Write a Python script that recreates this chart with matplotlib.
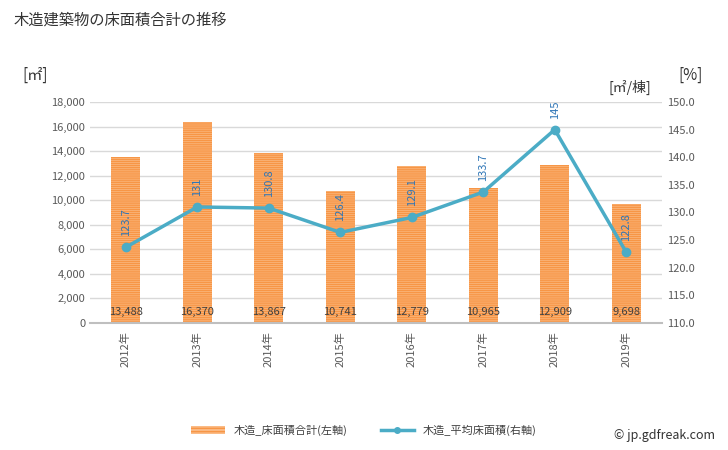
import matplotlib
matplotlib.use("Agg")
import matplotlib.pyplot as plt
from matplotlib.lines import Line2D
from matplotlib.patches import Patch

plt.rcParams['font.family'] = ['Noto Sans CJK JP', 'DejaVu Sans']
plt.rcParams['hatch.linewidth'] = 1.0

years = ['2012年', '2013年', '2014年', '2015年', '2016年', '2017年', '2018年', '2019年']
area = [13488, 16370, 13867, 10741, 12779, 10965, 12909, 9698]
avg = [123.7, 131, 130.8, 126.4, 129.1, 133.7, 145, 122.8]
avg_labels = ['123.7', '131', '130.8', '126.4', '129.1', '133.7', '145', '122.8']

fig = plt.figure(figsize=(7.28, 4.5), dpi=100)
ax = fig.add_axes([90/728, 1-323/450, 572/728, 221/450])
ax2 = ax.twinx()

x = list(range(len(years)))
ax.bar(x, area, width=0.4, color='#fbbb85', edgecolor='#f79646', hatch='--------', linewidth=0, zorder=2)
ax.set_ylim(0, 18000)
ax.set_xlim(-0.5, len(years)-0.5)
ax.set_yticks(range(0, 18001, 2000))
ax.set_yticklabels([f'{v:,}' for v in range(0, 18001, 2000)])
ax.grid(axis='y', color='#d9d9d9', linewidth=1, zorder=0)
ax.set_axisbelow(True)
ax.set_xticks(x)
ax.set_xticklabels(years, rotation=90, fontsize=8, color='#595959')
for s in ['top', 'right', 'left']:
    ax.spines[s].set_visible(False)
ax.spines['bottom'].set_color('#bfbfbf')
ax.spines['bottom'].set_linewidth(1.5)
ax.tick_params(axis='y', length=0, labelsize=8, labelcolor='#595959')
ax.tick_params(axis='x', length=0, pad=6)

for xi, v in zip(x, area):
    ax.text(xi, 900, f'{v:,}', ha='center', va='center', fontsize=8, color='#404040', zorder=5)

ax2.plot(x, avg, color='#4bacc6', linewidth=2.5, marker='o', markersize=6, zorder=4)
ax2.set_ylim(110, 150)
ax2.set_yticks(range(110, 151, 5))
ax2.set_yticklabels([f'{v:.1f}' for v in range(110, 151, 5)])
ax2.tick_params(axis='y', length=0, labelsize=8, labelcolor='#595959')
for s in ['top', 'right', 'left', 'bottom']:
    ax2.spines[s].set_visible(False)
for xi, v, lab in zip(x, avg, avg_labels):
    ax2.annotate(lab, (xi, v), xytext=(0, 8), textcoords='offset points', rotation=90,
                 ha='center', va='bottom', fontsize=8, color='#2e75b6')

fig.text(14/728, 1-20/450, '木造建築物の床面積合計の推移', fontsize=11, color='#333333', va='center')
fig.text(22/728, 1-75/450, '[㎡]', fontsize=11, color='#333333', va='center')
fig.text(678/728, 1-75/450, '[%]', fontsize=11, color='#333333', va='center')
fig.text(608/728, 1-87/450, '[㎡/棟]', fontsize=10, color='#333333', va='center')

handles = [Patch(facecolor='#fbbb85', edgecolor='#f79646', hatch='-----', linewidth=0),
           Line2D([0], [0], color='#4bacc6', linewidth=2.5, marker='o', markersize=4)]
fig.legend(handles, ['木造_床面積合計(左軸)', '木造_平均床面積(右軸)'], loc='center',
           bbox_to_anchor=(0.5, 1-430/450), ncol=2, frameon=False, fontsize=8,
           handlelength=3, columnspacing=3, labelcolor='#404040')
fig.text(715/728, 1-436/450, '© jp.gdfreak.com', fontsize=9, color='#333333', ha='right', va='center')

fig.savefig('out.png', dpi=100)
